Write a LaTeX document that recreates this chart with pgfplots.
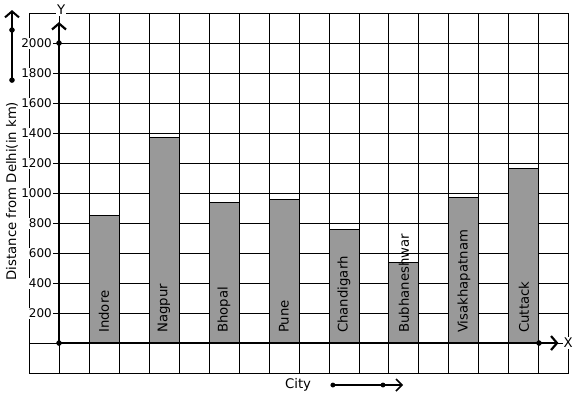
\documentclass[border=0pt]{standalone}
\usepackage{pgfplots}
\pgfplotsset{compat=1.18}
\usepackage{fontspec}
\setmainfont{DejaVu Sans}
\usetikzlibrary{arrows.meta}
\definecolor{bargray}{RGB}{153,153,153}
\newcommand\lbl{\fontsize{13.3}{16}\selectfont}
\begin{document}
\begin{tikzpicture}
\begin{axis}[
  scale only axis, width=540bp, height=360bp,
  xmin=-1, xmax=17, ymin=-200, ymax=2200,
  axis line style={draw=none},
  clip=false,
  xtick={-1,0,...,17}, xticklabels={},
  ytick={200,400,...,2000},
  extra y ticks={-200,0,2200}, extra y tick labels={},
  extra y tick style={yticklabel style={fill=none}},
  grid=major, major grid style={black, line width=1bp},
  major tick length=0pt,
  /pgf/number format/assume math mode=true,
  /pgf/number format/1000 sep={},
  yticklabel style={font=\fontsize{12}{14}\selectfont, anchor=east, fill=white, inner sep=1bp, xshift=24bp},
]
\addplot[ybar, bar width=30bp, bar shift=0pt, fill=bargray, draw=black, line width=1bp]
  coordinates {(1.5,850)(3.5,1370)(5.5,940)(7.5,960)(9.5,760)(11.5,540)(13.5,970)(15.5,1165)};
\addplot[draw=none, mark=none, nodes near coords, point meta=explicit symbolic,
  every node near coord/.append style={rotate=90, anchor=west, inner sep=0pt, font=\lbl}]
  coordinates {(1.5,67)[Indore] (3.5,67)[Nagpur] (5.5,67)[Bhopal] (7.5,67)[Pune]
               (9.5,67)[Chandigarh] (11.5,67)[Bubhaneshwar] (13.5,67)[Visakhapatnam] (15.5,67)[Cuttack]};
\draw[line width=2.2bp, -{Straight Barb[length=6bp,width=14bp]}] (axis cs:0,0) -- (axis cs:0,2140);
\draw[line width=2.2bp, -{Straight Barb[length=6bp,width=14bp]}] (axis cs:0,0) -- (axis cs:16.65,0);
\addplot[only marks, mark=*, mark size=2.5bp, black] coordinates {(0,0)(0,2000)(16,0)};
% decorative direction arrows
\draw[line width=2bp, -{Straight Barb[length=6bp,width=14bp]}] (axis cs:-1.567,1753) -- (axis cs:-1.567,2220);
\addplot[only marks, mark=*, mark size=2.5bp, black] coordinates {(-1.567,1753)(-1.567,2087)};
\draw[line width=1.6bp, -{Straight Barb[length=6bp,width=12bp]}] (axis cs:9.13,-280) -- (axis cs:11.47,-280);
\addplot[only marks, mark=*, mark size=2.2bp, black] coordinates {(9.13,-280)(10.8,-280)};
\node[font=\lbl, fill=white, inner sep=1bp] at (axis cs:0.07,2220) {Y};
\node[font=\lbl, fill=white, inner sep=1bp] at (axis cs:16.97,0) {X};
\node[font=\lbl, rotate=90] at (axis cs:-1.567,1013) {Distance from Delhi(in km)};
\node[font=\lbl] at (axis cs:7.97,-280) {City};
\coordinate (bbsw) at (axis cs:-1.967,-373);
\coordinate (bbne) at (axis cs:17.267,2287);
\end{axis}
\pgfresetboundingbox
\useasboundingbox (bbsw) rectangle (bbne);
\end{tikzpicture}
\end{document}
